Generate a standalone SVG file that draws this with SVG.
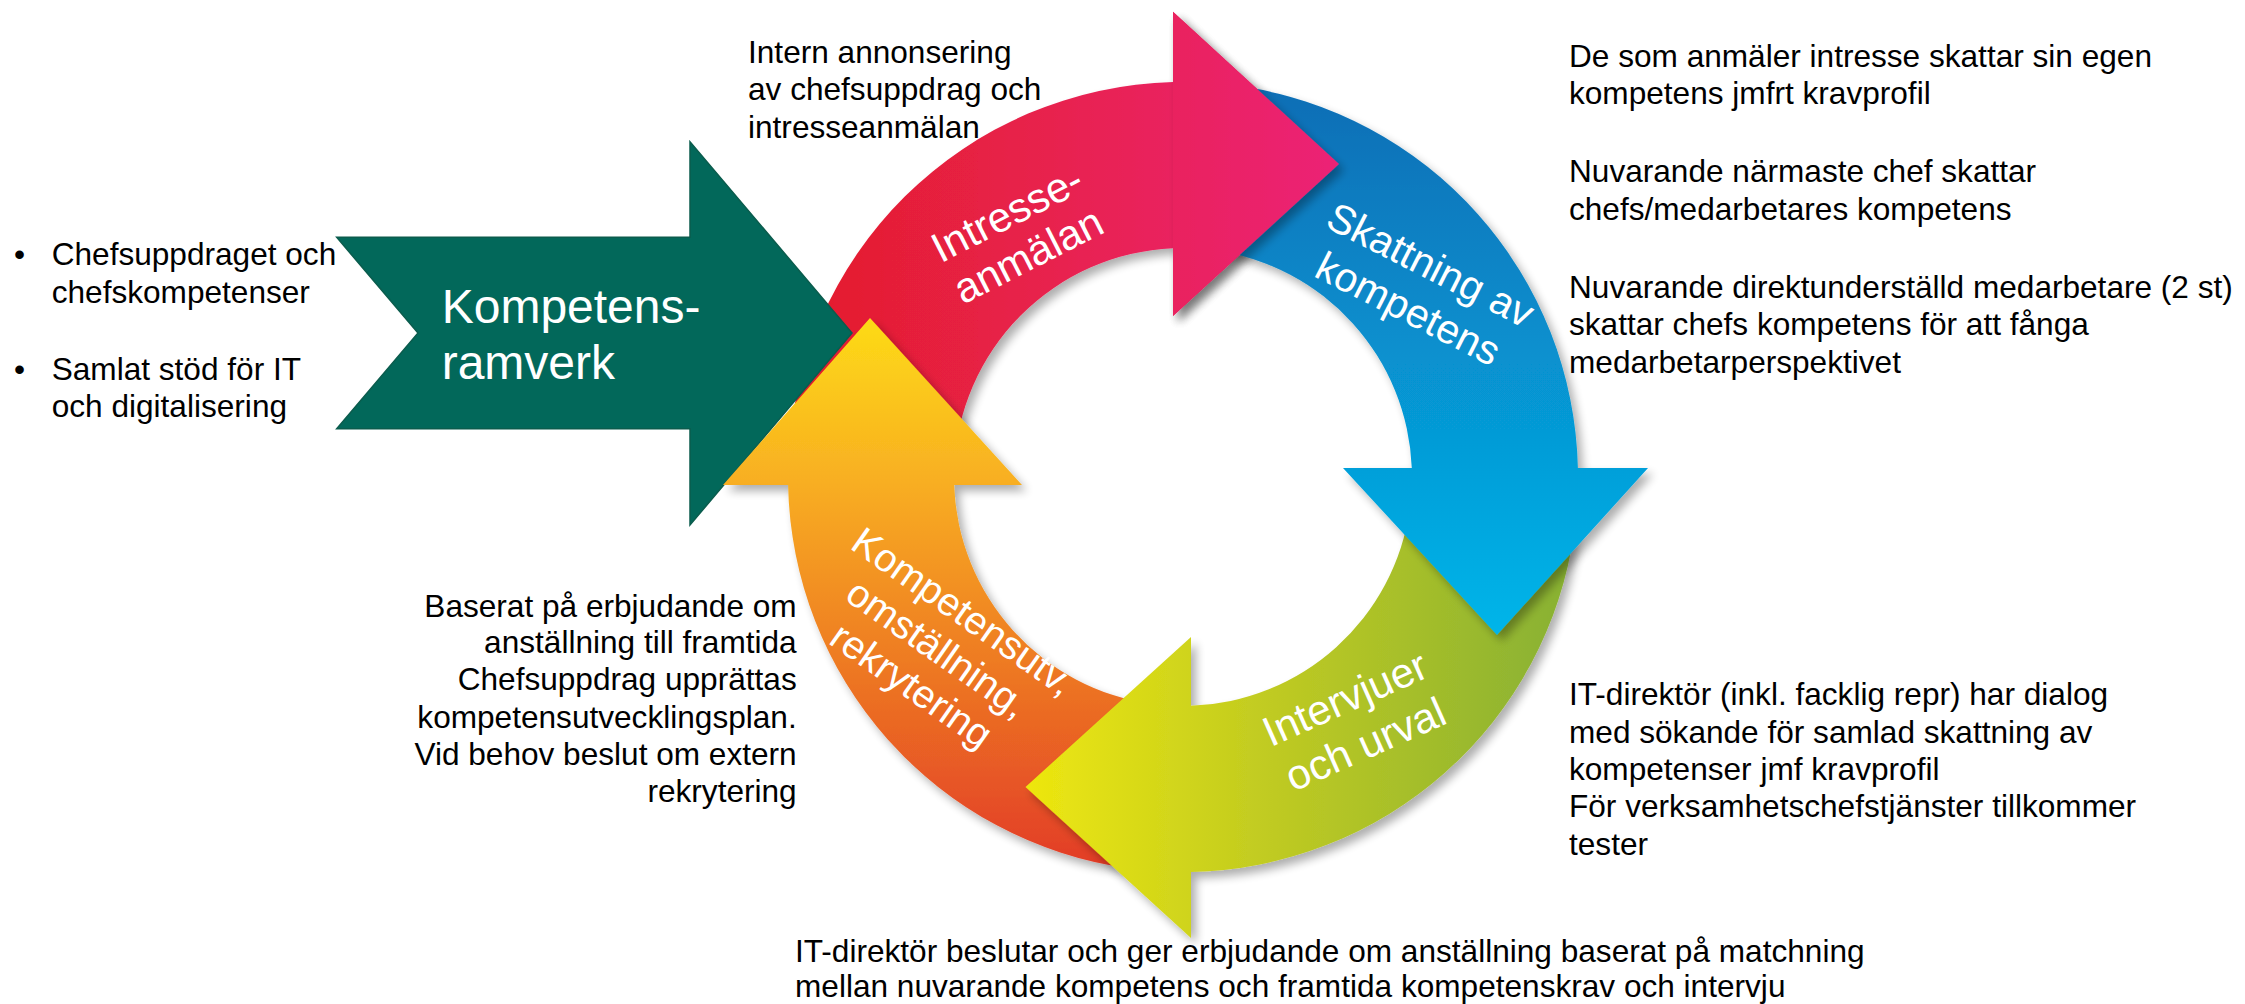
<svg xmlns="http://www.w3.org/2000/svg" xmlns:xlink="http://www.w3.org/1999/xlink" width="2245" height="1004" viewBox="0 0 2245 1004">
  <defs>
    <style>
      .txt { font-family: "Liberation Sans", Arial, sans-serif; font-size: 31.6px; fill: #000; }
      .lbl { font-family: "Liberation Sans", Arial, sans-serif; fill: #fff; text-anchor: middle; }
      .big { font-family: "Liberation Sans", Arial, sans-serif; font-size: 48px; fill: #fff; }
      .ring { filter: url(#shadow); }
    </style>
    <filter id="shadow" x="-20%" y="-20%" width="140%" height="140%">
      <feGaussianBlur in="SourceAlpha" stdDeviation="5"/>
      <feOffset dx="5" dy="6" result="off"/>
      <feComponentTransfer><feFuncA type="linear" slope="0.32"/></feComponentTransfer>
      <feMerge><feMergeNode/><feMergeNode in="SourceGraphic"/></feMerge>
    </filter>
    <linearGradient id="gRed" gradientUnits="userSpaceOnUse" x1="800" y1="0" x2="1340" y2="0">
      <stop offset="0" stop-color="#E41E2B"/>
      <stop offset="1" stop-color="#EC2476"/>
    </linearGradient>
    <linearGradient id="gBlue" gradientUnits="userSpaceOnUse" x1="0" y1="85" x2="0" y2="640">
      <stop offset="0" stop-color="#0B6DB5"/>
      <stop offset="1" stop-color="#03B6EA"/>
    </linearGradient>
    <linearGradient id="gGreen" gradientUnits="userSpaceOnUse" x1="1025" y1="0" x2="1580" y2="0">
      <stop offset="0" stop-color="#EEE70F"/>
      <stop offset="0.45" stop-color="#BFCA22"/>
      <stop offset="1" stop-color="#86B034"/>
    </linearGradient>
    <linearGradient id="gOrange" gradientUnits="userSpaceOnUse" x1="0" y1="318" x2="0" y2="870">
      <stop offset="0" stop-color="#FDDB17"/>
      <stop offset="0.3" stop-color="#F8AE22"/>
      <stop offset="0.62" stop-color="#EE7B22"/>
      <stop offset="1" stop-color="#E23B28"/>
    </linearGradient>
    <polygon id="redHead" points="1173,11.7 1339,164 1173,316" fill="url(#gRed)"/>
  </defs>

  <rect width="2245" height="1004" fill="#fff"/>

  <!-- connectors: the cycle arrows -->
  <g id="connectors">
    <g id="node-intresse">
      <path class="ring" fill="url(#gRed)" d="M 788.24 463.21 A 395 395 0 0 1 1173 82.1 L 1173 11.7 L 1339 164 L 1173 316 L 1173 248.2 A 229 229 0 0 0 954.14 469.01 Z"/>
      <text class="lbl" font-size="42" transform="translate(1013.5,226.3) rotate(-27)"><tspan x="0" y="0">Intresse-</tspan><tspan x="0" y="47">anmälan</tspan></text>
    </g>
  </g>

  <g id="node-kompetensramverk">
    <path fill="#02685A" stroke="#0B5C4D" stroke-width="1.5" d="M 336.7 237.3 L 690 237.3 L 690 141.7 L 852 333 L 690 525 L 690 428.7 L 336.7 428.7 L 418 333 Z"/>
    <text class="big" x="441.7" y="322.7">Kompetens-</text>
    <text class="big" x="441.7" y="379">ramverk</text>
  </g>

  <g id="node-kompetensutv">
    <path class="ring" fill="url(#gOrange)" d="M 1128.03 868.16 A 395 395 0 0 1 788.08 485 L 723 485 L 870 318 L 1022 485 L 954.14 485 A 229 229 0 0 0 1151.13 703.77 Z"/>
    <text class="lbl" font-size="39.5" transform="translate(955.4,622.5) rotate(35)"><tspan x="0" y="0">Kompetensutv,</tspan><tspan x="0" y="45">omställning,</tspan><tspan x="0" y="90">rekrytering</tspan></text>
  </g>

  <g id="node-intervjuer">
    <path class="ring" fill="url(#gGreen)" d="M 1574.16 531.97 A 395 395 0 0 1 1191 871.92 L 1191 938 L 1025.5 787 L 1191 637 L 1191 705.86 A 229 229 0 0 0 1409.77 508.87 Z"/>
    <text class="lbl" font-size="42" transform="translate(1350.8,711.7) rotate(-24)"><tspan x="0" y="0">Intervjuer</tspan><tspan x="0" y="50">och urval</tspan></text>
  </g>

  <g id="node-skattning">
    <path class="ring" fill="url(#gBlue)" d="M 1237.97 85.84 A 395 395 0 0 1 1577.9 468 L 1648 468 L 1497 635 L 1343 468 L 1411.8 468 A 229 229 0 0 0 1214.87 250.23 Z"/>
    <text class="lbl" font-size="41" transform="translate(1424.2,277.5) rotate(27)"><tspan x="0" y="0">Skattning av</tspan><tspan x="0" y="49">kompetens</tspan></text>
  </g>

  <g id="node-intresse-head">
    <use xlink:href="#redHead" href="#redHead" class="ring"/>
  </g>

  <!-- annotations -->
  <g id="text-left">
    <text class="txt" x="14" y="265">•</text>
    <text class="txt" x="51.7" y="265">Chefsuppdraget och</text>
    <text class="txt" x="51.7" y="302.7">chefskompetenser</text>
    <text class="txt" x="14" y="380">•</text>
    <text class="txt" x="51.7" y="380">Samlat stöd för IT</text>
    <text class="txt" x="51.7" y="416.7">och digitalisering</text>
  </g>

  <g id="text-intern">
    <text class="txt" x="748" y="62.7">Intern annonsering</text>
    <text class="txt" x="748" y="100">av chefsuppdrag och</text>
    <text class="txt" x="748" y="138">intresseanmälan</text>
  </g>

  <g id="text-right-top">
    <text class="txt" x="1569" y="66.7">De som anmäler intresse skattar sin egen</text>
    <text class="txt" x="1569" y="104">kompetens jmfrt kravprofil</text>
    <text class="txt" x="1569" y="181.7">Nuvarande närmaste chef skattar</text>
    <text class="txt" x="1569" y="220">chefs/medarbetares kompetens</text>
    <text class="txt" x="1569" y="298.3">Nuvarande direktunderställd medarbetare (2 st)</text>
    <text class="txt" x="1569" y="335">skattar chefs kompetens för att fånga</text>
    <text class="txt" x="1569" y="373.3">medarbetarperspektivet</text>
  </g>

  <g id="text-right-bottom">
    <text class="txt" x="1569" y="705">IT-direktör (inkl. facklig repr) har dialog</text>
    <text class="txt" x="1569" y="742.7">med sökande för samlad skattning av</text>
    <text class="txt" x="1569" y="780">kompetenser jmf kravprofil</text>
    <text class="txt" x="1569" y="816.7">För verksamhetschefstjänster tillkommer</text>
    <text class="txt" x="1569" y="855">tester</text>
  </g>

  <g id="text-left-bottom" text-anchor="end">
    <text class="txt" x="796.7" y="616.7">Baserat på erbjudande om</text>
    <text class="txt" x="796.7" y="653.3">anställning till framtida</text>
    <text class="txt" x="796.7" y="690">Chefsuppdrag upprättas</text>
    <text class="txt" x="796.7" y="728.3">kompetensutvecklingsplan.</text>
    <text class="txt" x="796.7" y="765">Vid behov beslut om extern</text>
    <text class="txt" x="796.7" y="801.7">rekrytering</text>
  </g>

  <g id="text-bottom">
    <text class="txt" x="795" y="961.7">IT-direktör beslutar och ger erbjudande om anställning baserat på matchning</text>
    <text class="txt" x="795" y="997">mellan nuvarande kompetens och framtida kompetenskrav och intervju</text>
  </g>
</svg>
